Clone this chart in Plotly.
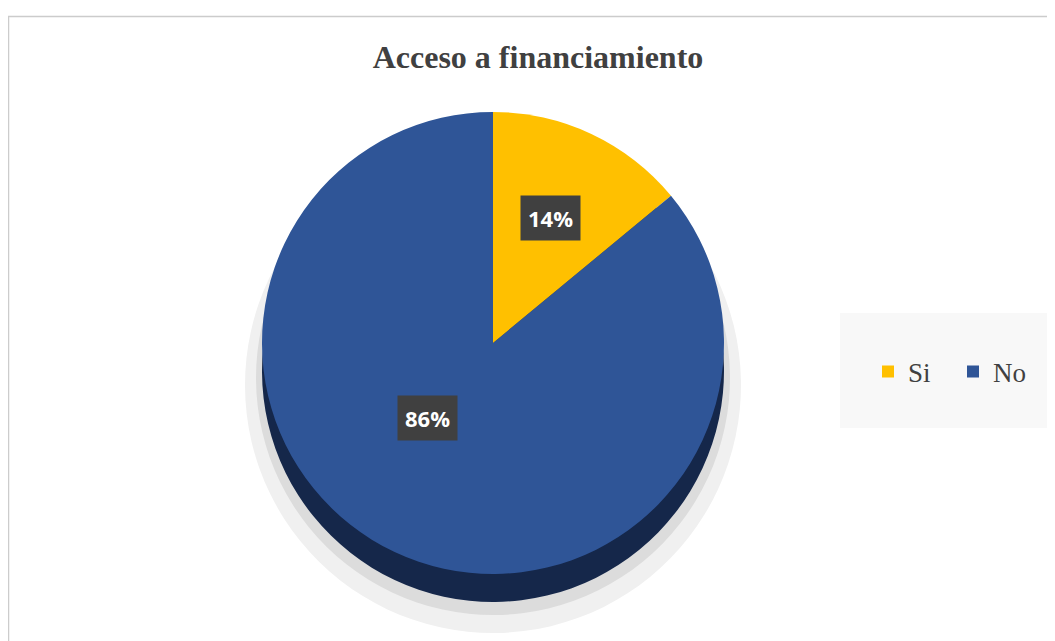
import math
import plotly.graph_objects as go

# ---- data ----
categories = ["Si", "No"]
values = [14, 86]
face_colors = ["#FFC000", "#2F5597"]
side_colors = ["#7f6000", "#15274a"]
title_text = "Acceso a financiamiento"

W, H = 1055, 641

# pie geometry (figure pixels)
cx, cy = 485, 335
diam = 462
depth = 28

def dom(cxp, cyp, d):
    return dict(x=[(cxp - d / 2) / W, (cxp + d / 2) / W],
                y=[(H - cyp - d / 2) / H, (H - cyp + d / 2) / H])

fig = go.Figure()

# soft shadow
fig.add_trace(go.Pie(
    labels=categories, values=values, sort=False, direction="clockwise",
    marker=dict(colors=["#f0f0f0", "#f0f0f0"], line=dict(width=0)),
    textinfo="none", hoverinfo="skip", showlegend=False,
    domain=dom(cx, cy + depth + 14, diam + 34),
))
fig.add_trace(go.Pie(
    labels=categories, values=values, sort=False, direction="clockwise",
    marker=dict(colors=["#dcdcdc", "#dcdcdc"], line=dict(width=0)),
    textinfo="none", hoverinfo="skip", showlegend=False,
    domain=dom(cx, cy + depth + 7, diam + 12),
))
# side (thickness)
fig.add_trace(go.Pie(
    labels=categories, values=values, sort=False, direction="clockwise",
    marker=dict(colors=side_colors, line=dict(width=0)),
    textinfo="none", hoverinfo="skip", showlegend=False,
    domain=dom(cx, cy + depth, diam),
))
# top face
fig.add_trace(go.Pie(
    labels=categories, values=values, sort=False, direction="clockwise",
    marker=dict(colors=face_colors, line=dict(width=0)),
    textinfo="none", hoverinfo="label+percent", showlegend=True,
    domain=dom(cx, cy, diam),
))

# data labels placed from the slice mid-angles (horizontal, vertical radius fractions)
total = sum(values)
start = 0.0
label_radius = [(0.58, 0.60), (0.67, 0.36)]
for v, (rxf, ryf) in zip(values, label_radius):
    mid = start + v / total * 360 / 2
    start += v / total * 360
    a = math.radians(mid)
    px = cx + rxf * diam / 2 * math.sin(a)
    py = cy - ryf * diam / 2 * math.cos(a)
    fig.add_annotation(
        x=px / W, y=1 - py / H, xref="paper", yref="paper",
        xanchor="center", yanchor="middle",
        text=f"<b>{round(v / total * 100)}%</b>", showarrow=False,
        font=dict(family="Open Sans, Lato, sans-serif", size=22, color="white"),
        bgcolor="#404040", borderpad=7,
    )

fig.update_layout(
    width=W, height=H,
    margin=dict(l=0, r=0, t=0, b=0),
    paper_bgcolor="white",
    title=dict(text=f"<b>{title_text}</b>", x=530 / W, xanchor="center",
               y=1 - 49 / H, yanchor="middle",
               font=dict(family="Liberation Serif, Times New Roman, serif",
                         size=32, color="#404040")),
    legend=dict(orientation="h", x=(839 + 212 / 2) / W, xanchor="center",
                y=1 - 364 / H, yanchor="middle",
                bgcolor="rgba(0,0,0,0)",
                font=dict(family="Liberation Serif, Times New Roman, serif",
                          size=27, color="#404040"),
                entrywidth=40, entrywidthmode="pixels",
                traceorder="normal"),
    shapes=[
        dict(type="rect", xref="paper", yref="paper",
             x0=832 / W, x1=1044 / W, y0=1 - 420 / H, y1=1 - 305 / H,
             fillcolor="#f8f8f8", line=dict(width=0), layer="below"),
        dict(type="rect", xref="paper", yref="paper",
             x0=0.5 / W, x1=1.05, y0=-0.05, y1=1 - 8.5 / H,
             line=dict(color="#cccccc", width=1.5), layer="above"),
    ],
)

fig.write_html("out.html")
